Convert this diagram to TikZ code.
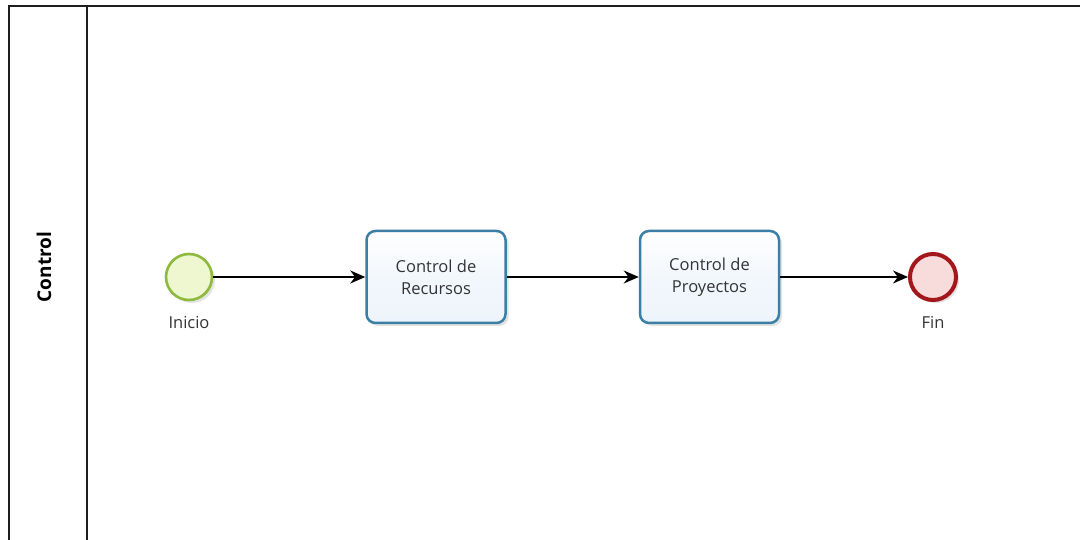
\documentclass[tikz,border=0pt]{standalone}
\usepackage{fontspec}
\setmainfont{Open Sans}
\usetikzlibrary{arrows.meta,shadows}
\definecolor{poolline}{HTML}{1E1E1E}
\definecolor{startline}{HTML}{8DBA3C}
\definecolor{startfill}{HTML}{EEF7CF}
\definecolor{endline}{HTML}{A3161C}
\definecolor{endfill}{HTML}{F8DCDC}
\definecolor{taskline}{HTML}{3C7FA6}
\definecolor{taskfill}{HTML}{EDF4FB}
\tikzset{
  pool/.style={draw=poolline, line width=1.5pt},
  flow/.style={draw=black, line width=1.4pt, -{Stealth[length=15pt,width=13pt]}},
  evshadow/.style={drop shadow={shadow xshift=3pt, shadow yshift=-3pt, opacity=0.18, fill=black!60}},
  startev/.style={circle, minimum size=46pt, inner sep=0pt, draw=startline, line width=2.6pt, fill=startfill, evshadow},
  endev/.style={circle, minimum size=46pt, inner sep=0pt, draw=endline, line width=4pt, fill=endfill, evshadow},
  task/.style={rectangle, rounded corners=9pt, minimum width=139pt, minimum height=92pt, draw=taskline, line width=2.5pt,
    top color=white, bottom color=taskfill, middle color=taskfill!70, align=center, font=\fontsize{16.5}{22}\selectfont,
    text=black!80, evshadow},
  evlabel/.style={font=\fontsize{16.5}{18}\selectfont, text=black!80},
  lanelabel/.style={font=\bfseries\fontsize{19}{22}\selectfont, rotate=90}
}
\begin{document}
\begin{tikzpicture}[x=1pt,y=-1pt]
\useasboundingbox (0,0) rectangle (1080,540);
\fill[white] (0,0) rectangle (1080,540);
% pool border and lane header
\draw[pool] (1082,6) -- (9,6) -- (9,542);
\draw[pool] (87,6) -- (87,542);
\node[lanelabel] (lane) at (44,267) {Control};
% flow elements
\node[startev] (start) at (189,277) {};
\node[evlabel] (startlbl) at (189,323) {Inicio};
\node[task] (t1) at (436,277) {Control de\\Recursos};
\node[task] (t2) at (709.5,277) {Control de\\Proyectos};
\node[endev] (end) at (933,277) {};
\node[evlabel] (endlbl) at (933,322) {Fin};
% sequence flows
\draw[flow] (start) -- (t1);
\draw[flow] (t1) -- (t2);
\draw[flow] (t2) -- (end);
\end{tikzpicture}
\end{document}
